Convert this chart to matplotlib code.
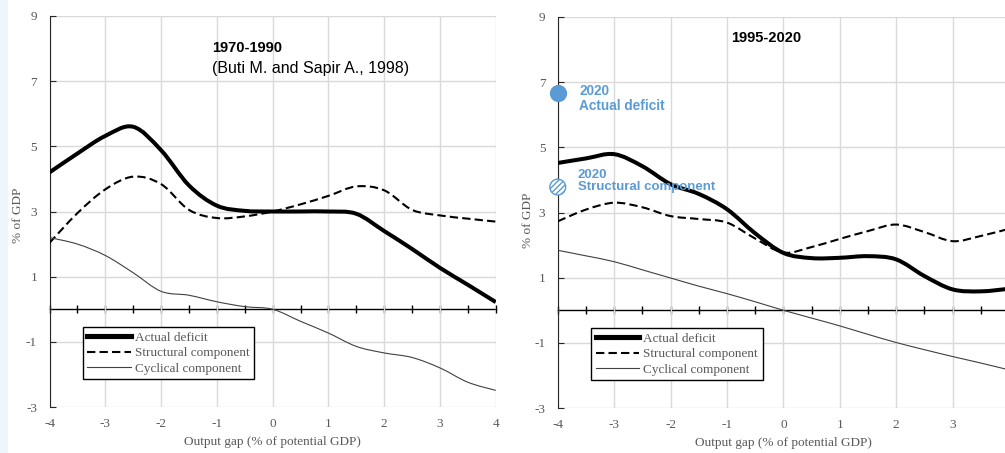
import matplotlib
matplotlib.use('Agg')
import matplotlib.pyplot as plt
from matplotlib.path import Path
from matplotlib.patches import PathPatch, Rectangle
from matplotlib.lines import Line2D

plt.rcParams['axes.unicode_minus'] = False

# 数据 (output gap, % of GDP)
gap = [-4, -3.5, -3, -2.5, -2, -1.5, -1, -0.5, 0, 0.5, 1, 1.5, 2, 2.5, 3, 3.5, 4]

actual_70 = [4.2, 4.78, 5.32, 5.6, 4.88, 3.8, 3.18, 3.02, 3.0, 3.0, 3.0, 2.93, 2.4, 1.85, 1.27, 0.75, 0.22]
struct_70 = [2.04, 2.95, 3.68, 4.07, 3.84, 3.05, 2.8, 2.85, 3.0, 3.22, 3.48, 3.77, 3.65, 3.05, 2.88, 2.78, 2.69]
cyc_70 = [2.2, 2.0, 1.65, 1.12, 0.55, 0.43, 0.23, 0.08, 0.0, -0.37, -0.73, -1.14, -1.34, -1.48, -1.8, -2.24, -2.49]

actual_95 = [4.52, 4.66, 4.79, 4.42, 3.87, 3.57, 3.1, 2.36, 1.76, 1.6, 1.61, 1.66, 1.56, 1.05, 0.64, 0.58, 0.66]
struct_95 = [2.73, 3.09, 3.3, 3.16, 2.89, 2.8, 2.69, 2.2, 1.77, 1.94, 2.19, 2.43, 2.63, 2.4, 2.12, 2.28, 2.5]
cyc_95 = [1.84, 1.67, 1.49, 1.24, 0.99, 0.74, 0.51, 0.26, 0.0, -0.24, -0.48, -0.74, -0.99, -1.21, -1.42, -1.62, -1.83]

# 2020 点
gap_2020 = -4
actual_2020 = 6.68
struct_2020 = 3.78

xticks = [-4, -3, -2, -1, 0, 1, 2, 3, 4]
yticks = [-3, -1, 1, 3, 5, 7, 9]

blue = '#5b9bd5'
grey = '#595959'
serif = ['Liberation Serif', 'DejaVu Serif']
sans = ['Liberation Sans', 'DejaVu Sans']


# Excel 风格平滑曲线
def smooth(x, y):
    n = len(x)
    verts = [(x[0], y[0])]
    codes = [Path.MOVETO]
    for i in range(n - 1):
        i0 = max(i - 1, 0)
        i3 = min(i + 2, n - 1)
        c1 = (x[i] + (x[i + 1] - x[i0]) / 6, y[i] + (y[i + 1] - y[i0]) / 6)
        c2 = (x[i + 1] - (x[i3] - x[i]) / 6, y[i + 1] - (y[i3] - y[i]) / 6)
        verts += [c1, c2, (x[i + 1], y[i + 1])]
        codes += [Path.CURVE4] * 3
    return Path(verts, codes)


styles = [
    dict(color='black', lw=2.9, ls='-'),
    dict(color='black', lw=1.5, ls=(0, (4, 2))),
    dict(color='#404040', lw=0.8, ls='-'),
]
labels = ['Actual deficit', 'Structural component', 'Cyclical component']


def draw_panel(ax, series, title, sub=None):
    ax.set_xlim(-4, 4)
    ax.set_ylim(-3, 9)
    ax.set_xticks(xticks)
    ax.set_yticks(yticks)
    ax.grid(True, color='#d9d9d9', lw=1)
    ax.set_axisbelow(True)
    for s in ['top', 'right', 'bottom']:
        ax.spines[s].set_visible(False)
    ax.spines['left'].set_color('#262626')
    ax.tick_params(axis='x', length=0, pad=8, labelsize=9.5, labelcolor=grey)
    ax.tick_params(axis='y', direction='in', length=4, color='#262626', pad=9,
                   labelsize=9.5, labelcolor=grey)
    for lab in ax.get_xticklabels() + ax.get_yticklabels():
        lab.set_family(serif)

    # y=0 的横轴
    sec = ax.secondary_xaxis(0.25)
    sec.set_xticks([v / 2 for v in range(-8, 9)])
    sec.tick_params(direction='inout', length=6, width=1, color='black', labelbottom=False)
    sec.spines['bottom'].set_color('black')
    sec.spines['bottom'].set_linewidth(1)

    for y, st in zip(series, styles):
        ax.add_patch(PathPatch(smooth(gap, y), fill=False, edgecolor=st['color'],
                               lw=st['lw'], ls=st['ls'], capstyle='butt', zorder=3))

    handles = [Line2D([], [], color=st['color'], lw=st['lw'] + (0.8 if i == 0 else 0), ls=st['ls'])
               for i, st in enumerate(styles)]
    leg = ax.legend(handles, labels, loc='upper left', bbox_to_anchor=(0.074, 0.205),
                    prop={'family': serif, 'size': 9.5}, frameon=True, fancybox=False,
                    edgecolor='black', framealpha=1, handlelength=3.3, handletextpad=0.3,
                    labelspacing=0.25, borderpad=0.35, borderaxespad=0)
    leg.get_frame().set_linewidth(1)
    for t in leg.get_texts():
        t.set_color(grey)

    ax.set_xlabel('Output gap (% of potential GDP)', family=serif, fontsize=9.5, color=grey, labelpad=4)
    ax.set_ylabel('% of GDP', family=serif, fontsize=9.5, color=grey)

    ax.text(title[1], title[2], title[0], family=sans, fontsize=10.5, fontweight='bold',
            ha='left', va='center')
    if sub:
        ax.text(sub[1], sub[2], sub[0], family=sans, fontsize=11.5, ha='left', va='center')


fig = plt.figure(figsize=(10.05, 4.53), dpi=100)
fig.patches.append(Rectangle((0, 0), 0.007, 1, transform=fig.transFigure,
                             color='#eef5fb', zorder=0))

ax1 = fig.add_axes([0.0493, 0.1015, 0.444, 0.8632])
draw_panel(ax1, [actual_70, struct_70, cyc_70], ('1970-1990', -1.09, 8.03),
           ('(Buti M. and Sapir A., 1998)', -1.09, 7.38))
ax1.yaxis.set_label_coords(-0.058, 0.49)

ax2 = fig.add_axes([0.555, 0.0993, 0.449, 0.8632])
draw_panel(ax2, [actual_95, struct_95, cyc_95], ('1995-2020', -0.93, 8.34))
ax2.yaxis.set_label_coords(-0.053, 0.48)

# 2020 标注
ax2.scatter([gap_2020], [actual_2020], s=130, color=blue, zorder=5, clip_on=False)
ax2.scatter([gap_2020], [struct_2020], s=130, facecolor='white', edgecolor=blue,
            hatch='//////', lw=1, zorder=5, clip_on=False)
ax2.text(-3.62, 6.5, '2020\nActual deficit', family=sans, fontsize=9.8, fontweight='bold',
         color=blue, ha='left', va='center', linespacing=1.05, zorder=6)
ax2.text(-3.65, 3.97, '2020\nStructural component', family=sans, fontsize=9.5, fontweight='bold',
         color=blue, ha='left', va='center', linespacing=1.05, zorder=6)

plt.savefig('out.png', dpi=100)
